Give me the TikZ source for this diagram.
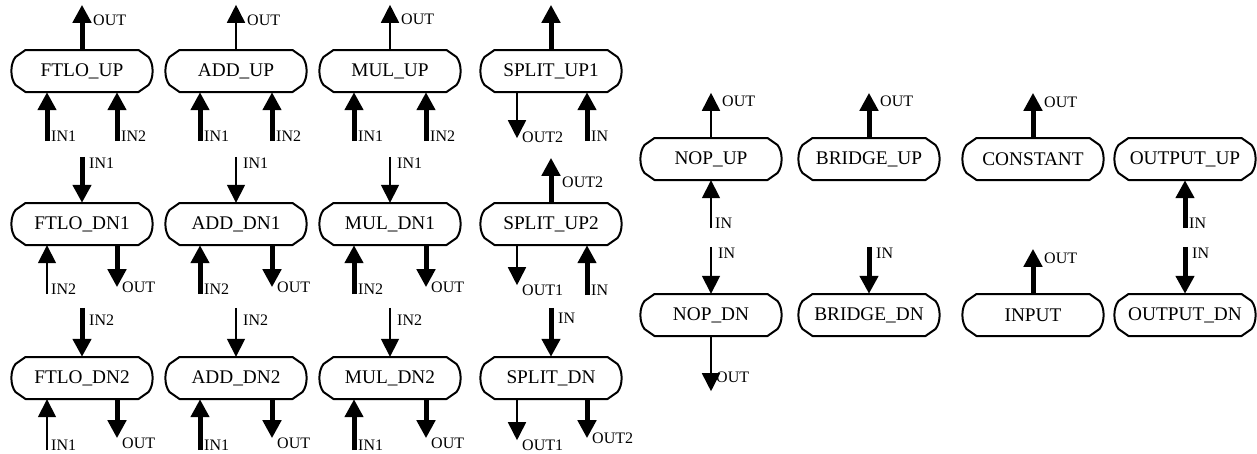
\documentclass[tikz,border=0pt]{standalone}
\usepackage{fontspec}
\setmainfont{Liberation Serif}
\usetikzlibrary{arrows.meta}

\tikzset{
  opnode/.style={inner sep=0pt, minimum width=143pt, minimum height=42pt,
    font=\fontsize{19.3}{21}\selectfont},
  rim/.style={line width=2pt, line join=round},
  thk/.style={line width=5pt, -{Triangle[width=18pt,length=18pt]}},
  thn/.style={line width=1.7pt, -{Triangle[width=18pt,length=18pt]}},
  lbl/.style={inner sep=0pt, font=\fontsize{16}{17}\selectfont},
}

% operator box: name, centre x, centre y, text
\newcommand\opcell[4]{%
  \node[opnode] (#1) at (#2,#3) {#4};
  \draw[rim] (#2-56.5,#3-21) -- (#2+56.5,#3-21) -- (#2+66.5,#3-14)
    .. controls (#2+72,#3-7) and (#2+72,#3+7) .. (#2+66.5,#3+14)
    -- (#2+56.5,#3+21) -- (#2-56.5,#3+21) -- (#2-66.5,#3+14)
    .. controls (#2-72,#3+7) and (#2-72,#3-7) .. (#2-66.5,#3-14) -- cycle;
}
% output port on top: node, dx, style, label, label drop
\newcommand\portTopOut[5]{%
  \coordinate (#1-t) at ([xshift=#2pt,yshift=45pt]#1.north);
  \draw[#3] ([xshift=#2pt]#1.north) -- (#1-t);
  \node[lbl,anchor=west] at ([xshift=11pt,yshift={-1pt*(#5)}]#1-t) {#4};
}
% input port on top: node, dx, style, label, length, label drop
\newcommand\portTopIn[6]{%
  \coordinate (#1-t) at ([xshift=#2pt,yshift=#5pt]#1.north);
  \draw[#3] (#1-t) -- ([xshift=#2pt]#1.north);
  \node[lbl,anchor=north west] at ([xshift=7pt,yshift={-1pt*(#6)}]#1-t) {#4};
}
% input port below: node, tag, dx, style, label, length
\newcommand\portBotIn[6]{%
  \coordinate (#1-#2) at ([xshift=#3pt,yshift=-#6pt]#1.south);
  \draw[#4] (#1-#2) -- ([xshift=#3pt]#1.south);
  \node[lbl,anchor=base west] at ([xshift=4pt]#1-#2) {#5};
}
% output port below: node, tag, dx, style, label, length, label drop
\newcommand\portBotOut[7]{%
  \coordinate (#1-#2) at ([xshift=#3pt,yshift=-#6pt]#1.south);
  \draw[#4] ([xshift=#3pt]#1.south) -- (#1-#2);
  \node[lbl,anchor=base west] at ([xshift=5pt,yshift={-1pt*(#7)}]#1-#2) {#5};
}

\begin{document}
\begin{tikzpicture}[x=1pt,y=-1pt]
\useasboundingbox (0,0) rectangle (1257,453);

% ---- arithmetic operators, split ----
\opcell{ftloup}{82}{71}{FTLO\_UP}
\opcell{addup}{236}{71}{ADD\_UP}
\opcell{mulup}{390}{71}{MUL\_UP}
\opcell{splitupa}{551}{71}{SPLIT\_UP1}

\opcell{ftlodna}{82}{224}{FTLO\_DN1}
\opcell{adddna}{236}{224}{ADD\_DN1}
\opcell{muldna}{390}{224}{MUL\_DN1}
\opcell{splitupb}{551}{224}{SPLIT\_UP2}

\opcell{ftlodnb}{82}{378}{FTLO\_DN2}
\opcell{adddnb}{236}{378}{ADD\_DN2}
\opcell{muldnb}{390}{378}{MUL\_DN2}
\opcell{splitdn}{551}{378}{SPLIT\_DN}

% ---- pass-through, constants, i/o ----
\opcell{nopup}{711}{159}{NOP\_UP}
\opcell{bridgeup}{869}{159}{BRIDGE\_UP}
\opcell{constant}{1033}{159}{CONSTANT}
\opcell{outputup}{1185}{159}{OUTPUT\_UP}

\opcell{nopdn}{711}{315}{NOP\_DN}
\opcell{bridgedn}{869}{315}{BRIDGE\_DN}
\opcell{input}{1033}{315}{INPUT}
\opcell{outputdn}{1185}{315}{OUTPUT\_DN}

% row 1
\portTopOut{ftloup}{0}{thk}{OUT}{15}
\portBotIn{ftloup}{l}{-35}{thk}{IN1}{49}
\portBotIn{ftloup}{r}{35}{thk}{IN2}{49}

\portTopOut{addup}{0}{thn}{OUT}{15}
\portBotIn{addup}{l}{-36}{thk}{IN1}{49}
\portBotIn{addup}{r}{36}{thk}{IN2}{49}

\portTopOut{mulup}{0}{thn}{OUT}{14}
\portBotIn{mulup}{l}{-36}{thk}{IN1}{49}
\portBotIn{mulup}{r}{36}{thk}{IN2}{49}

\coordinate (splitupa-t) at ([yshift=45pt]splitupa.north);
\draw[thk] (splitupa.north) -- (splitupa-t);
\portBotOut{splitupa}{l}{-34}{thn}{OUT2}{46}{4}
\portBotIn{splitupa}{r}{36}{thk}{IN}{49}

% row 2
\portTopIn{ftlodna}{0}{thk}{IN1}{46}{1}
\portBotIn{ftlodna}{l}{-35}{thn}{IN2}{49}
\portBotOut{ftlodna}{r}{35}{thk}{OUT}{42}{5}

\portTopIn{adddna}{0}{thn}{IN1}{46}{1}
\portBotIn{adddna}{l}{-36}{thk}{IN2}{49}
\portBotOut{adddna}{r}{36}{thk}{OUT}{42}{5}

\portTopIn{muldna}{0}{thn}{IN1}{46}{1}
\portBotIn{muldna}{l}{-36}{thk}{IN2}{49}
\portBotOut{muldna}{r}{36}{thk}{OUT}{42}{5}

\portTopOut{splitupb}{0}{thk}{OUT2}{24}
\portBotOut{splitupb}{l}{-34}{thn}{OUT1}{40}{10}
\portBotIn{splitupb}{r}{36}{thk}{IN}{50}

% row 3
\portTopIn{ftlodnb}{0}{thk}{IN2}{49}{7}
\portBotIn{ftlodnb}{l}{-35}{thn}{IN1}{51}
\portBotOut{ftlodnb}{r}{35}{thk}{OUT}{39}{10}

\portTopIn{adddnb}{0}{thn}{IN2}{49}{7}
\portBotIn{adddnb}{l}{-36}{thk}{IN1}{51}
\portBotOut{adddnb}{r}{36}{thk}{OUT}{39}{10}

\portTopIn{muldnb}{0}{thn}{IN2}{49}{7}
\portBotIn{muldnb}{l}{-36}{thk}{IN1}{51}
\portBotOut{muldnb}{r}{36}{thk}{OUT}{39}{10}

\portTopIn{splitdn}{0}{thk}{IN}{49}{5}
\portBotOut{splitdn}{l}{-34}{thn}{OUT1}{41}{10}
\portBotOut{splitdn}{r}{36}{thk}{OUT2}{39}{5}

% right group
\portTopOut{nopup}{0}{thn}{OUT}{8}
\portBotIn{nopup}{c}{0}{thn}{IN}{48}
\portTopOut{bridgeup}{0}{thk}{OUT}{8}
\portTopOut{constant}{0}{thk}{OUT}{9}
\portBotIn{outputup}{c}{0}{thk}{IN}{48}

\portTopIn{nopdn}{0}{thn}{IN}{47}{1}
\portBotOut{nopdn}{c}{0}{thn}{OUT}{55}{-9}
\portTopIn{bridgedn}{0}{thk}{IN}{47}{1}
\portTopOut{input}{0}{thk}{OUT}{9}
\portTopIn{outputdn}{0}{thk}{IN}{47}{1}
\end{tikzpicture}
\end{document}
